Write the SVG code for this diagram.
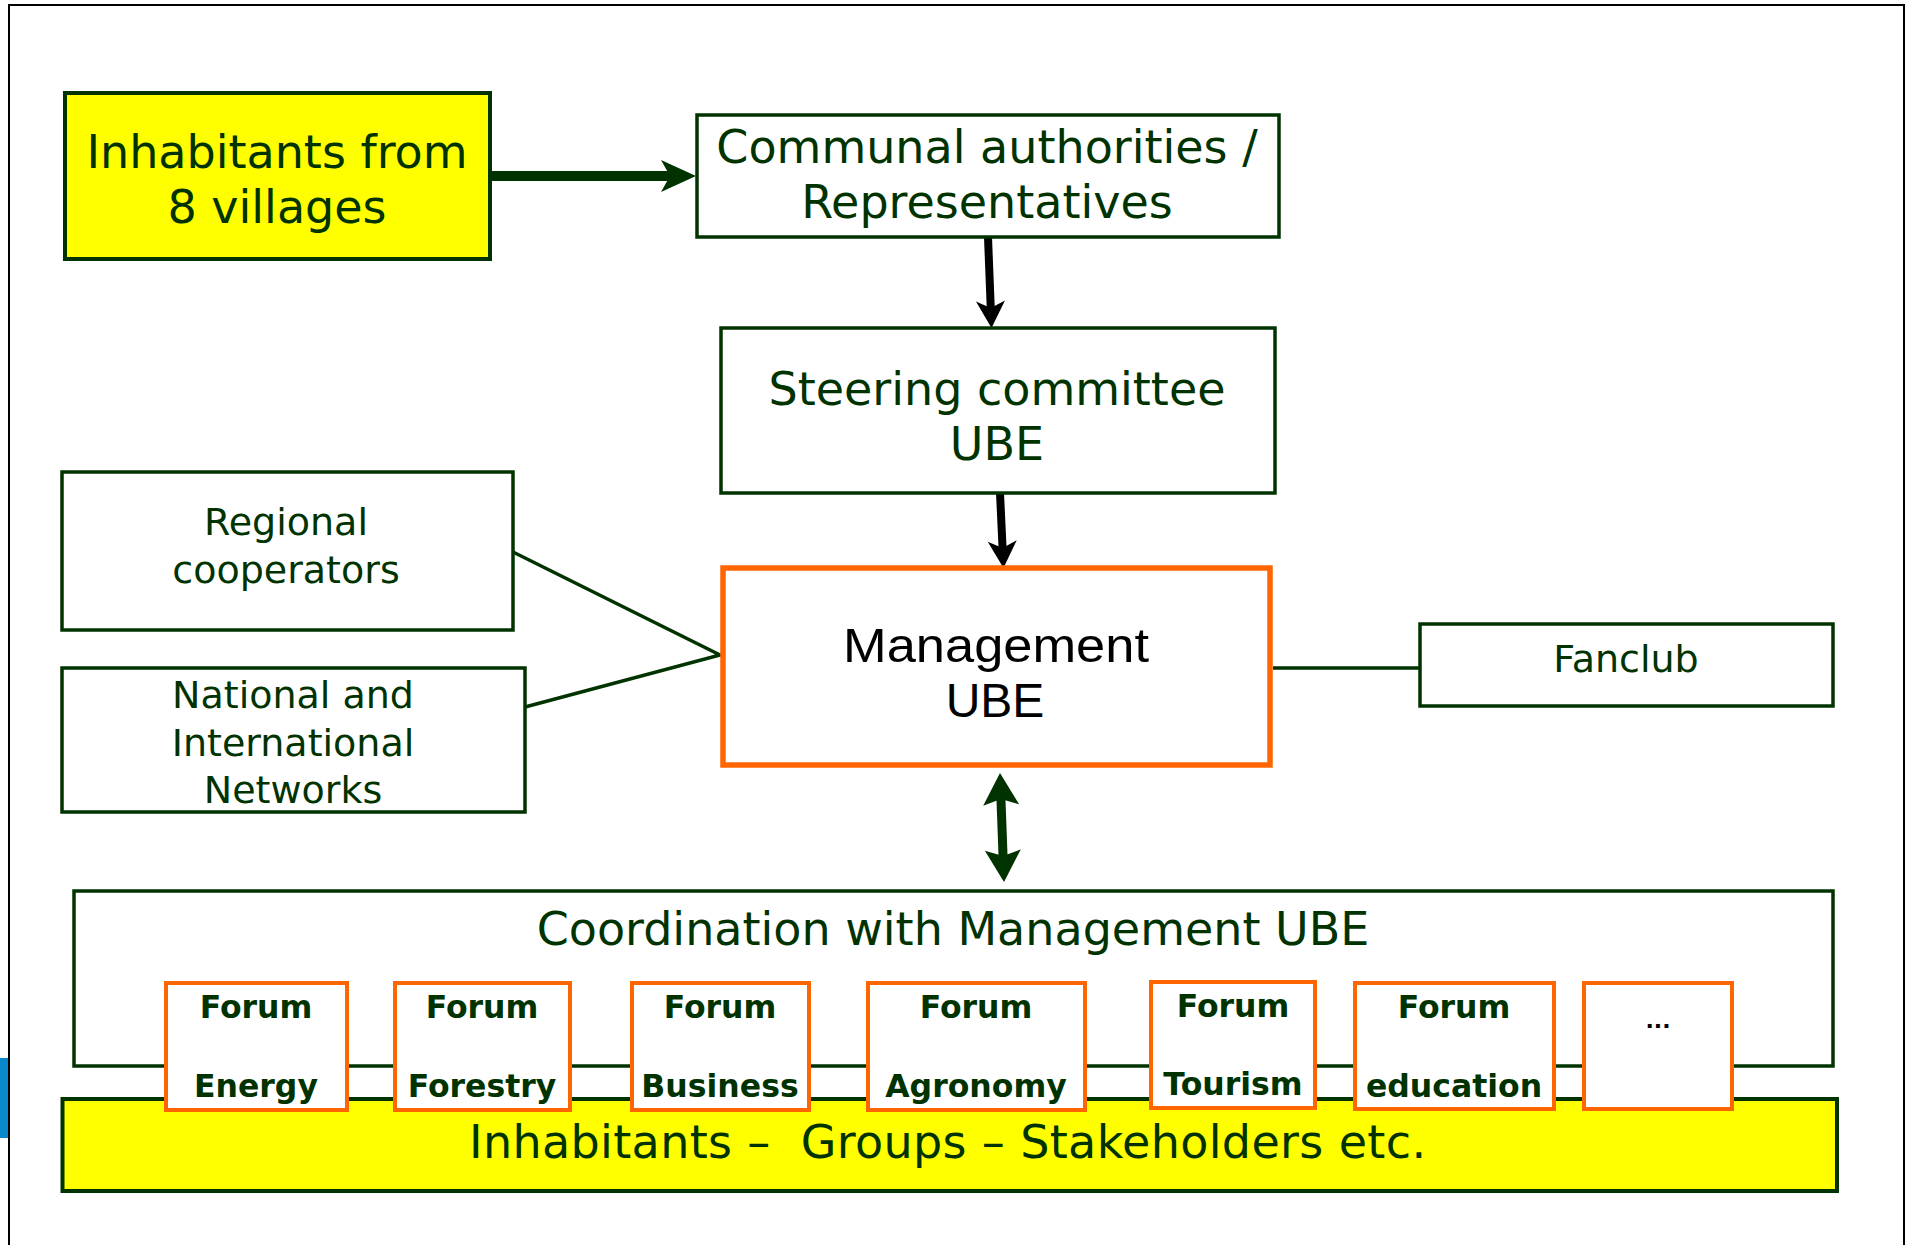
<svg xmlns="http://www.w3.org/2000/svg" width="1908" height="1245" viewBox="0 0 1908 1245">
  <style>
    .box { fill: #ffffff; stroke: #003300; stroke-width: 3.5; }
    .yel { fill: #ffff00; stroke: #003300; stroke-width: 4; }
    .org { fill: #ffffff; stroke: #ff6600; stroke-width: 4; }
    .t { font-family: "DejaVu Sans", Verdana, sans-serif; fill: #003300; text-anchor: middle; }
    .big { font-size: 46px; }
    .mid { font-size: 38px; }
    .fr { font-size: 31.5px; font-weight: bold; }
    .mg { font-family: "Liberation Sans", Arial, sans-serif; font-size: 48px; fill: #000000; text-anchor: middle; }
    .link { fill: none; stroke: #003300; stroke-width: 3.5; }
  </style>
  <defs>
    <marker id="headIn" markerUnits="userSpaceOnUse" viewBox="-36 -17 38 34" markerWidth="38" markerHeight="34" refX="-22" refY="0" orient="auto">
      <path d="M0,0 L-35,-16 L-26,0 L-35,16 Z" fill="#003300"/>
    </marker>
    <marker id="headBlk" markerUnits="userSpaceOnUse" viewBox="-28 -16 30 32" markerWidth="30" markerHeight="32" refX="-16" refY="0" orient="auto">
      <path d="M0,0 L-27,-14.5 L-20,0 L-27,14.5 Z" fill="#000000"/>
    </marker>
    <marker id="headDbl" markerUnits="userSpaceOnUse" viewBox="-34 -19 36 38" markerWidth="36" markerHeight="38" refX="-22" refY="0" orient="auto-start-reverse">
      <path d="M0,0 L-32,-18 L-26,0 L-32,18 Z" fill="#003300"/>
    </marker>
  </defs>

  <rect width="1908" height="1245" fill="#ffffff"/>

  <!-- page frame -->
  <path d="M9,1245 V5 H1904 V1245" fill="none" stroke="#000000" stroke-width="2"/>
  <rect x="0" y="1058" width="8" height="80" fill="#0a88cc"/>

  <!-- connectors -->
  <g id="connectors">
    <path d="M490,176 H674" stroke="#003300" stroke-width="10" fill="none" marker-end="url(#headIn)"/>
    <path d="M988,237 L990.9,312" stroke="#000000" stroke-width="8" fill="none" marker-end="url(#headBlk)"/>
    <path d="M1000,493 L1002.75,552" stroke="#000000" stroke-width="8" fill="none" marker-end="url(#headBlk)"/>
    <path d="M1000.8,795 L1003.2,860" stroke="#003300" stroke-width="9" fill="none" marker-start="url(#headDbl)" marker-end="url(#headDbl)"/>
    <path class="link" d="M513,552 L720,655 L525,707"/>
    <path class="link" d="M1273,668 H1420"/>
  </g>

  <g id="inhabitants">
    <rect class="yel" x="65" y="93" width="425" height="166"/>
    <text class="t big" x="277" y="168">Inhabitants from</text>
    <text class="t big" x="277" y="223">8 villages</text>
  </g>

  <g id="communal">
    <rect class="box" x="697" y="115" width="582" height="122"/>
    <text class="t big" x="987" y="163">Communal authorities /</text>
    <text class="t big" x="987" y="218">Representatives</text>
  </g>

  <g id="steering">
    <rect class="box" x="721" y="328" width="554" height="165"/>
    <text class="t big" x="997" y="405">Steering committee</text>
    <text class="t big" x="997" y="460">UBE</text>
  </g>

  <g id="management">
    <rect x="723" y="568" width="547" height="197" fill="#ffffff" stroke="#ff6600" stroke-width="5.5"/>
    <text class="mg" x="996" y="662" textLength="306" lengthAdjust="spacingAndGlyphs">Management</text>
    <text class="mg" x="995" y="717">UBE</text>
  </g>

  <g id="regional">
    <rect class="box" x="62" y="472" width="451" height="158"/>
    <text class="t mid" x="286" y="535">Regional</text>
    <text class="t mid" x="286" y="583">cooperators</text>
  </g>

  <g id="networks">
    <rect class="box" x="62" y="668" width="463" height="144"/>
    <text class="t mid" x="293" y="708">National and</text>
    <text class="t mid" x="293" y="756">International</text>
    <text class="t mid" x="293" y="803">Networks</text>
  </g>

  <g id="fanclub">
    <rect class="box" x="1420" y="624" width="413" height="82"/>
    <text class="t mid" x="1626" y="672">Fanclub</text>
  </g>

  <g id="coordination">
    <rect class="box" x="74" y="891" width="1759" height="175"/>
    <text class="t big" x="953" y="945">Coordination with Management UBE</text>
  </g>

  <g id="stakeholders">
    <rect class="yel" x="62.5" y="1099" width="1774.5" height="92"/>
    <text class="t big" x="469" y="1158" style="text-anchor:start" textLength="957" xml:space="preserve">Inhabitants –  Groups – Stakeholders etc.</text>
  </g>

  <g id="forum-energy">
    <rect class="org" x="166" y="983" width="181" height="127"/>
    <text class="t fr" x="256" y="1018">Forum</text>
    <text class="t fr" x="256" y="1097">Energy</text>
  </g>
  <g id="forum-forestry">
    <rect class="org" x="395" y="983" width="175" height="127"/>
    <text class="t fr" x="482" y="1018">Forum</text>
    <text class="t fr" x="482" y="1097">Forestry</text>
  </g>
  <g id="forum-business">
    <rect class="org" x="632" y="983" width="177" height="127"/>
    <text class="t fr" x="720" y="1018">Forum</text>
    <text class="t fr" x="720" y="1097">Business</text>
  </g>
  <g id="forum-agronomy">
    <rect class="org" x="868" y="983" width="217" height="127"/>
    <text class="t fr" x="976" y="1018">Forum</text>
    <text class="t fr" x="976" y="1097">Agronomy</text>
  </g>
  <g id="forum-tourism">
    <rect class="org" x="1151" y="982" width="164" height="126"/>
    <text class="t fr" x="1233" y="1017">Forum</text>
    <text class="t fr" x="1233" y="1095">Tourism</text>
  </g>
  <g id="forum-education">
    <rect class="org" x="1355" y="983" width="199" height="126"/>
    <text class="t fr" x="1454" y="1018">Forum</text>
    <text class="t fr" x="1454" y="1097">education</text>
  </g>
  <g id="forum-more">
    <rect class="org" x="1584" y="983" width="148" height="126"/>
    <text class="t" x="1658" y="1028" style="font-size:22px;font-weight:bold;fill:#000000">...</text>
  </g>
</svg>
